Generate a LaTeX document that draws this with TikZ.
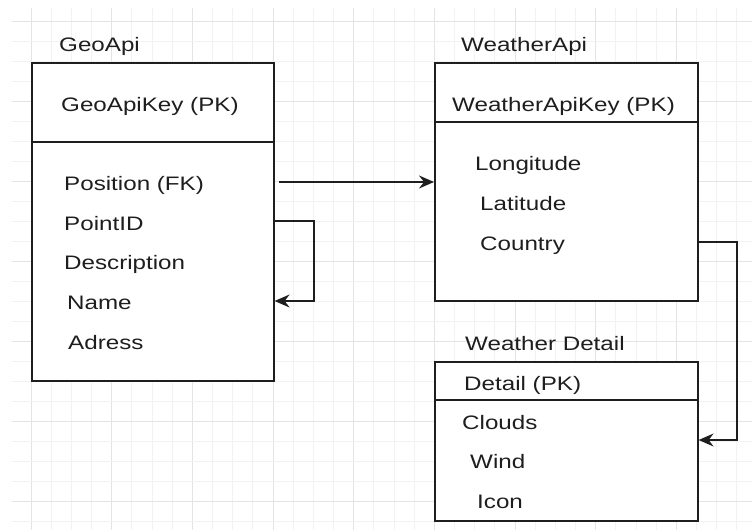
\documentclass[tikz,border=0pt]{standalone}
\usepackage{fontspec}
\setmainfont{Liberation Sans}[FakeStretch=1.24]
\usetikzlibrary{arrows.meta}
\definecolor{gridminor}{HTML}{F2F2F2}
\definecolor{gridmajor}{HTML}{E4E4E4}
\definecolor{ink}{HTML}{1E1E1E}
\tikzset{
  box/.style={draw=ink, line width=1.6pt, fill=white, anchor=north west, inner sep=0pt},
  divider/.style={draw=ink, line width=1.6pt},
  label/.style={anchor=base west, inner sep=0pt, text=ink,
    font=\fontsize{19.5}{23}\selectfont},
  conn/.style={draw=ink, line width=1.5pt,
    -{Stealth[length=15pt, width=13pt, inset=5pt]}},
}
\begin{document}
\begin{tikzpicture}[x=1pt, y=-1pt]
\useasboundingbox (0,0) rectangle (752,530);

% background grid
\begin{scope}
  \clip (11.5,8) rectangle (752,530);
  \foreach \k in {-1,...,36} {
    \pgfmathsetmacro\gx{31+20.17*\k}
    \pgfmathtruncatemacro\m{mod(\k+4,4)}
    \ifnum\m=0
      \draw[gridmajor, line width=1pt] (\gx,0) -- (\gx,530);
    \else
      \draw[gridminor, line width=1pt] (\gx,0) -- (\gx,530);
    \fi
  }
  \foreach \k in {-1,...,26} {
    \pgfmathsetmacro\gy{21.7+20*\k}
    \pgfmathtruncatemacro\m{mod(\k+4,4)}
    \ifnum\m=0
      \draw[gridmajor, line width=1pt] (0,\gy) -- (752,\gy);
    \else
      \draw[gridminor, line width=1pt] (0,\gy) -- (752,\gy);
    \fi
  }
\end{scope}

% GeoApi table
\node[box, minimum width=242pt, minimum height=318pt] (geo) at (31,62) {};
\draw[divider] (geo.west |- 0,142) -- (geo.east |- 0,142);
\node[label] (geoT) at (59,51.5) {GeoApi};
\node[label] (geoK) at (61,111) {GeoApiKey (PK)};
\node[label] (geoA) at (64,190.5) {Position (FK)};
\node[label] (geoB) at (64,230) {PointID};
\node[label] (geoC) at (64,269.5) {Description};
\node[label] (geoD) at (67,309) {Name};
\node[label] (geoE) at (68,349) {Adress};

% WeatherApi table
\node[box, minimum width=263pt, minimum height=238pt] (wapi) at (434,62) {};
\draw[divider] (wapi.west |- 0,122) -- (wapi.east |- 0,122);
\node[label] (wapiT) at (461,51.5) {WeatherApi};
\node[label] (wapiK) at (452,111) {WeatherApiKey (PK)};
\node[label] (wapiA) at (475,170.5) {Longitude};
\node[label] (wapiB) at (480,210.5) {Latitude};
\node[label] (wapiC) at (480,250.5) {Country};

% Weather Detail table
\node[box, minimum width=263pt, minimum height=159pt] (wdet) at (434,361) {};
\draw[divider] (wdet.west |- 0,400) -- (wdet.east |- 0,400);
\node[label] (wdetT) at (465,350) {Weather Detail};
\node[label] (wdetK) at (464,390) {Detail (PK)};
\node[label] (wdetA) at (462,429) {Clouds};
\node[label] (wdetB) at (470,468.5) {Wind};
\node[label] (wdetC) at (477,508) {Icon};

% connectors
\coordinate (posOut) at (279,182);
\coordinate (selfA) at (314,221);
\coordinate (selfB) at (314,301);
\coordinate (ctyA) at (737,242);
\coordinate (ctyB) at (737,440);

\draw[conn] (posOut) -- (wapi.west |- posOut);
\draw[conn] (geo.east |- selfA) -- (selfA) -- (selfB) -- (geo.east |- selfB);
\draw[conn] (wapi.east |- ctyA) -- (ctyA) -- (ctyB) -- (wdet.east |- ctyB);
\end{tikzpicture}
\end{document}
